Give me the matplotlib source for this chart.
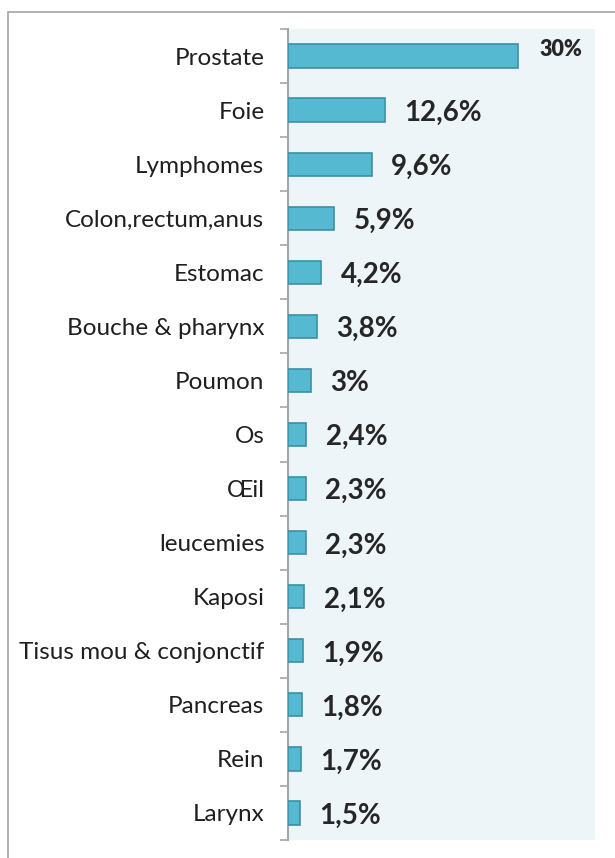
import matplotlib
matplotlib.use("Agg")
import matplotlib.pyplot as plt
from matplotlib.patches import Rectangle

categories = ["Prostate", "Foie", "Lymphomes", "Colon,rectum,anus", "Estomac",
              "Bouche & pharynx", "Poumon", "Os", "Œil", "leucemies", "Kaposi",
              "Tisus mou & conjonctif", "Pancreas", "Rein", "Larynx"]
# bar lengths as drawn in the picture
values = [30, 12.6, 10.9, 6.0, 4.3, 3.8, 3.0, 2.4, 2.3, 2.3, 2.1, 1.9, 1.8, 1.7, 1.5]
value_labels = ["30%", "12,6%", "9,6%", "5,9%", "4,2%", "3,8%", "3%", "2,4%",
                "2,3%", "2,3%", "2,1%", "1,9%", "1,8%", "1,7%", "1,5%"]

W, H = 615, 858
fig = plt.figure(figsize=(W / 100, H / 100), dpi=100)
plt.rcParams['font.family'] = ['Lato', 'DejaVu Sans']

# outer frame
fig.patches.append(Rectangle((8 / W, -0.1), 1.2, 1 - 12 / H + 0.1, transform=fig.transFigure,
                             fill=False, edgecolor="#A6A6A6", linewidth=1.2))

left, right, top, bottom = 288, 595, 29, 840
ax = fig.add_axes([left / W, 1 - bottom / H, (right - left) / W, (bottom - top) / H])
ax.set_facecolor("#EEF5F8")

n = len(categories)
y = list(range(n))
ax.barh(y, values, height=0.43, color="#56B9D2", edgecolor="#3B8FA6", linewidth=1.2, zorder=3)
ax.set_ylim(n - 0.5, -0.5)
ax.set_xlim(0, 40)

for i, (v, lab) in enumerate(zip(values, value_labels)):
    if i == 0:
        ax.annotate(lab, (v, i), xytext=(15, 5), textcoords="offset points",
                    ha="left", va="center", fontsize=15.5, fontweight="heavy", color="#262626")
    else:
        ax.annotate(lab, (v, i), xytext=(14, -2), textcoords="offset points",
                    ha="left", va="center", fontsize=20, fontweight="bold", color="#262626")

ax.set_yticks(y)
ax.set_yticklabels(categories, fontsize=17.5, color="#1F1F1F")
ax.tick_params(axis="y", which="major", length=0, pad=17)
ax.set_yticks([i - 0.5 for i in range(n + 1)], minor=True)
ax.tick_params(axis="y", which="minor", length=6, color="#A6A6A6", width=1.2)
ax.set_xticks([])
for s in ["top", "right", "bottom"]:
    ax.spines[s].set_visible(False)
ax.spines["left"].set_color("#A6A6A6")
ax.spines["left"].set_linewidth(1.5)

fig.savefig("out.png", dpi=100)
